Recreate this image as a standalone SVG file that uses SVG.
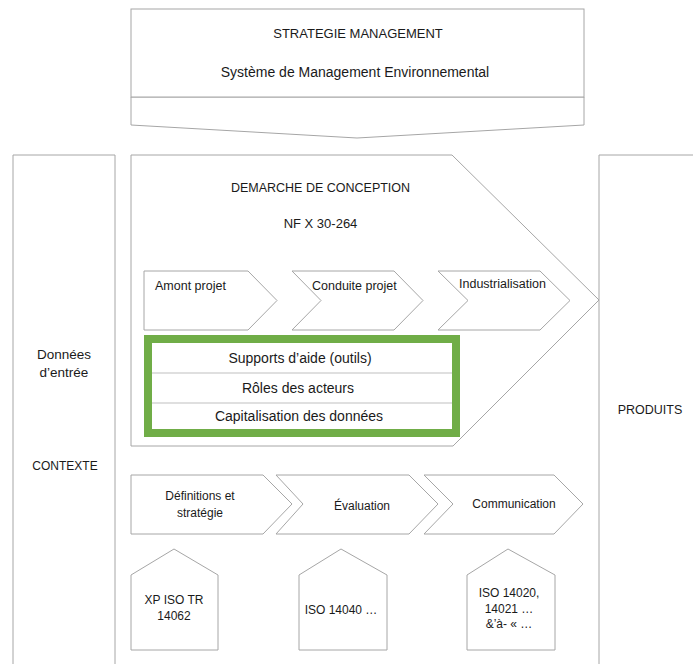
<svg xmlns="http://www.w3.org/2000/svg" width="693" height="664" viewBox="0 0 693 664">
<style>
.s{fill:#fff;stroke:#A6A6A6;stroke-width:1}
.o{fill:none;stroke:#A6A6A6;stroke-width:1}
.t{font-family:"Liberation Sans",Arial,sans-serif;fill:#1a1a1a;font-size:14px}
.c{text-anchor:middle}
.m{font-size:12.5px}
.sm{font-size:12px}
.div{stroke:#BFBFBF;stroke-width:1}
</style>
<rect width="693" height="664" fill="#fff"/>
<g id="strategie">
<polygon class="s" points="131,97 584,97 584,125 357,138 131,125"/>
<rect class="s" x="131" y="9" width="453" height="88"/>
<text class="t c" x="358" y="38" style="font-size:13px">STRATEGIE MANAGEMENT</text>
<text class="t c" x="355" y="77">Système de Management Environnemental</text>
</g>
<g id="contexte">
<polyline class="o" points="13,664 13,155 115,155 115,664"/>
<text class="t c" x="64" y="359" style="font-size:13.5px">Données</text>
<text class="t c" x="64" y="377" style="font-size:13.5px">d’entrée</text>
<text class="t c" x="65" y="470" style="font-size:12px">CONTEXTE</text>
</g>
<g id="produits">
<polyline class="o" points="693,155 599,155 599,664"/>
<text class="t c" x="650" y="414" style="font-size:12.5px">PRODUITS</text>
</g>
<g id="demarche">
<polygon class="s" points="131,155 452,155 599,300 453,446 131,446"/>
<text class="t c" x="320.5" y="192" style="font-size:12.5px">DEMARCHE DE CONCEPTION</text>
<text class="t c" x="320.5" y="228" style="font-size:13px">NF X 30-264</text>
</g>
<g id="amont">
<polygon class="s" points="144,271 248,271 277,300.5 248,330 144,330"/>
<text class="t m" x="155" y="290">Amont projet</text>
</g>
<g id="conduite">
<polygon class="s" points="292,271 394,271 423,300.5 394,330 292,330 321,300.5"/>
<text class="t m" x="312" y="290">Conduite projet</text>
</g>
<g id="industrialisation">
<polygon class="s" points="438,271 540,271 570,300.5 540,330 438,330 468,300.5"/>
<text class="t m" x="459" y="288">Industrialisation</text>
</g>
<g id="outils">
<rect x="148" y="339" width="308" height="94" fill="#fff" stroke="#70AD47" stroke-width="8"/>
<line class="div" x1="152" y1="373" x2="452" y2="373"/>
<line class="div" x1="152" y1="403" x2="452" y2="403"/>
<text class="t c" x="300" y="363">Supports d’aide (outils)</text>
<text class="t c" x="298" y="393">Rôles des acteurs</text>
<text class="t c" x="299" y="421">Capitalisation des données</text>
</g>
<g id="definitions">
<polygon class="s" points="131,475 263,475 292,504 263,534 131,534"/>
<text class="t c sm" x="200" y="500">Définitions et</text>
<text class="t c sm" x="200" y="517">stratégie</text>
</g>
<g id="evaluation">
<polygon class="s" points="276,475 409,475 438,504 409,534 276,534 303,504"/>
<text class="t c sm" x="362" y="510">Évaluation</text>
</g>
<g id="communication">
<polygon class="s" points="424,475 554,475 583,504 554,534 424,534 453,504"/>
<text class="t c sm" x="514" y="508">Communication</text>
</g>
<g id="xp-iso">
<polygon class="s" points="131,575 174,549 218,575 218,650 131,650"/>
<text class="t c sm" x="174" y="604">XP ISO TR</text>
<text class="t c sm" x="174" y="620">14062</text>
</g>
<g id="iso14040">
<polygon class="s" points="299,575 341,549 387,575 387,650 299,650"/>
<text class="t c sm" x="341" y="614">ISO 14040 …</text>
</g>
<g id="iso14020">
<polygon class="s" points="467,575 508,549 555,575 555,650 467,650"/>
<text class="t c sm" x="509" y="597">ISO 14020,</text>
<text class="t c sm" x="509" y="613">14021 …</text>
<text class="t c sm" x="509" y="628">&amp;’à- « …</text>
</g>
<g id="connectors"/>
</svg>
